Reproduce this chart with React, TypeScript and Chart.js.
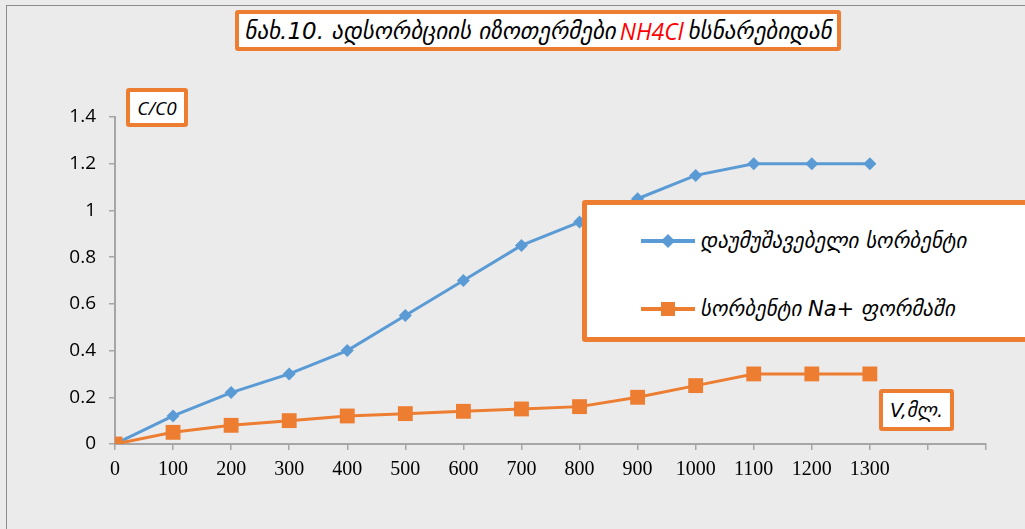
import React, { useEffect, useRef } from "react";
import { Chart, registerables } from "chart.js";

Chart.register(...registerables);

const volumes = [0, 100, 200, 300, 400, 500, 600, 700, 800, 900, 1000, 1100, 1200, 1300];
const untreated = [0, 0.12, 0.22, 0.3, 0.4, 0.55, 0.7, 0.85, 0.95, 1.05, 1.15, 1.2, 1.2, 1.2];
const naForm = [0, 0.05, 0.08, 0.1, 0.12, 0.13, 0.14, 0.15, 0.16, 0.2, 0.25, 0.3, 0.3, 0.3];
const seriesNames = ["დაუმუშავებელი სორბენტი", "სორბენტი Na+ ფორმაში"];
const titleParts = ["ნახ.10. ადსორბციის იზოთერმები ", "NH4Cl", " ხსნარებიდან"];
const yAxisTitle = "C/C0";
const xAxisTitle = "V,მლ.";
const lastLabelled = 1300;

const BLUE = "#5B9BD5";
const ORANGE = "#ED7D31";
const GEO = "'DejaVu Sans', 'Noto Sans', sans-serif";

const boxStyle = (l: number, t: number, w: number, h: number): React.CSSProperties => ({
  position: "absolute",
  left: l,
  top: t,
  width: w,
  height: h,
  boxSizing: "border-box",
  border: `4px solid ${ORANGE}`,
  borderRadius: 3,
  background: "#ffffff",
  display: "flex",
  alignItems: "center",
  justifyContent: "center",
  fontStyle: "italic",
  fontFamily: GEO,
  color: "#000",
  whiteSpace: "nowrap",
});

export default function App() {
  const ref = useRef<HTMLCanvasElement | null>(null);

  useEffect(() => {
    if (!ref.current) return;
    const chart = new Chart(ref.current, {
      type: "line",
      data: {
        datasets: [
          {
            label: seriesNames[0],
            data: volumes.map((v, i) => ({ x: v, y: untreated[i] })),
            borderColor: BLUE,
            backgroundColor: BLUE,
            borderWidth: 3,
            pointStyle: "rectRot",
            pointRadius: 6.5,
            pointBorderWidth: 0,
            order: 1,
          },
          {
            label: seriesNames[1],
            data: volumes.map((v, i) => ({ x: v, y: naForm[i] })),
            borderColor: ORANGE,
            backgroundColor: ORANGE,
            borderWidth: 3,
            pointStyle: "rect",
            pointRadius: 10.5,
            pointBorderWidth: 0,
            order: 0,
          },
        ],
      },
      options: {
        animation: false,
        responsive: false,
        maintainAspectRatio: false,
        layout: { padding: { top: 117, right: 39, left: 0, bottom: 0 } },
        plugins: {
          legend: { display: false },
          title: { display: false },
          tooltip: { enabled: false },
        },
        scales: {
          x: {
            type: "linear",
            min: 0,
            max: 1500,
            afterFit: (s: any) => {
              s.height = 85;
            },
            ticks: {
              stepSize: 100,
              autoSkip: false,
              maxRotation: 0,
              padding: 8,
              color: "#000",
              font: { family: "'Liberation Serif', 'DejaVu Serif', serif", size: 20 },
              callback: (v: any) => (Number(v) <= lastLabelled ? String(v) : ""),
            },
            grid: {
              drawOnChartArea: false,
              drawTicks: true,
              tickLength: 6,
              color: "#a6a6a6",
              lineWidth: 1.5,
            },
            border: { display: true, color: "#a6a6a6", width: 2 },
          },
          y: {
            min: 0,
            max: 1.4,
            afterFit: (s: any) => {
              s.width = 115;
            },
            ticks: {
              stepSize: 0.2,
              padding: 13,
              color: "#000",
              font: { family: "'Open Sans', 'Liberation Sans', sans-serif", size: 19 },
              callback: (v: any) => String(Number(Number(v).toFixed(1))),
            },
            grid: {
              drawOnChartArea: false,
              drawTicks: true,
              tickLength: 6,
              color: "#a6a6a6",
              lineWidth: 1.5,
            },
            border: { display: true, color: "#a6a6a6", width: 2 },
          },
        },
      },
    });
    return () => chart.destroy();
  }, []);

  const legendRow = (top: number, color: string, square: boolean, text: string) => (
    <div style={{ position: "absolute", left: 54, top, height: 24, display: "flex", alignItems: "center" }}>
      <div style={{ position: "relative", width: 54, height: 24, marginRight: 5 }}>
        <div style={{ position: "absolute", left: 0, top: 10, width: 54, height: 4, background: color }} />
        {square ? (
          <div style={{ position: "absolute", left: 20, top: 5, width: 14, height: 14, background: color }} />
        ) : (
          <div
            style={{
              position: "absolute",
              left: 22,
              top: 7,
              width: 10,
              height: 10,
              background: color,
              transform: "rotate(45deg)",
            }}
          />
        )}
      </div>
      <span style={{ fontStyle: "italic", fontFamily: GEO, fontSize: 21, color: "#000", whiteSpace: "nowrap" }}>{text}</span>
    </div>
  );

  return (
    <div
      style={{
        position: "fixed",
        left: 0,
        top: 0,
        width: 1025,
        height: 529,
        background: "#ebebeb",
        overflow: "hidden",
      }}
    >
      <div
        style={{
          position: "absolute",
          left: 6,
          top: 5,
          width: 1030,
          height: 540,
          borderLeft: "1.5px solid #8c8c8c",
          borderTop: "1.5px solid #8c8c8c",
          boxSizing: "border-box",
        }}
      />
      <canvas ref={ref} width={1025} height={529} style={{ position: "absolute", left: 0, top: 0 }} />
      <div style={{ ...boxStyle(235, 10, 606, 41), fontSize: 23 }}>
        <span>{titleParts[0]}</span>
        <span style={{ color: "#ff0000", fontFamily: "'Open Sans', sans-serif", margin: "0 4px" }}>{titleParts[1]}</span>
        <span>{titleParts[2]}</span>
      </div>
      <div style={{ ...boxStyle(126, 88, 62, 39), fontSize: 19, fontFamily: "'Open Sans', sans-serif" }}>{yAxisTitle}</div>
      <div style={{ ...boxStyle(879, 389, 75, 42), fontSize: 19 }}>{xAxisTitle}</div>
      <div style={{ ...boxStyle(582, 200, 450, 142), display: "block", borderWidth: 5 }}>
        {legendRow(24, BLUE, false, seriesNames[0])}
        {legendRow(92, ORANGE, true, seriesNames[1])}
      </div>
    </div>
  );
}
